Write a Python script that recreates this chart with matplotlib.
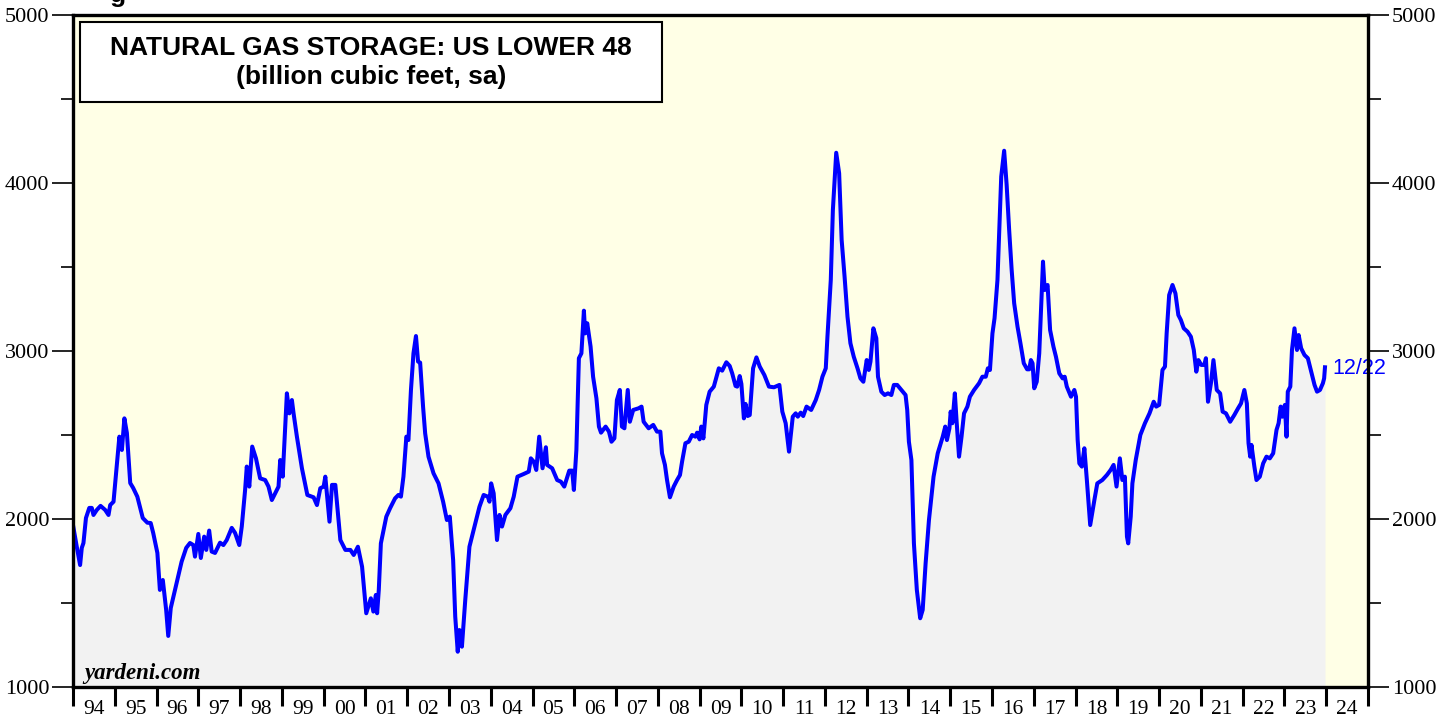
import matplotlib
matplotlib.use("Agg")
import matplotlib.pyplot as plt
from matplotlib.patches import Rectangle
from matplotlib.ticker import FixedLocator, NullFormatter

# ---------------------------------------------------------------------------
# Data: US lower-48 natural gas storage, bcf (sa)
# ---------------------------------------------------------------------------
dates = [
    1994.00, 1994.09, 1994.17, 1994.21, 1994.25, 1994.31, 1994.39, 1994.45, 1994.49, 1994.57,
    1994.66, 1994.77, 1994.85, 1994.89, 1994.97, 1995.01, 1995.06, 1995.11, 1995.17, 1995.23,
    1995.29, 1995.37, 1995.44, 1995.54, 1995.67, 1995.78, 1995.86, 1995.92, 1996.02, 1996.08,
    1996.15, 1996.23, 1996.28, 1996.34, 1996.47, 1996.60, 1996.71, 1996.80, 1996.88, 1996.92,
    1997.00, 1997.06, 1997.14, 1997.19, 1997.26, 1997.32, 1997.40, 1997.52, 1997.60, 1997.68,
    1997.80, 1997.88, 1997.98, 1998.04, 1998.12, 1998.16, 1998.22, 1998.29, 1998.38, 1998.48,
    1998.60, 1998.68, 1998.76, 1998.86, 1998.92, 1998.96, 1999.02, 1999.12, 1999.18, 1999.24,
    1999.28, 1999.36, 1999.48, 1999.61, 1999.76, 1999.84, 1999.92, 2000.00, 2000.04, 2000.14,
    2000.20, 2000.28, 2000.40, 2000.52, 2000.64, 2000.72, 2000.82, 2000.92, 2001.02, 2001.13,
    2001.19, 2001.25, 2001.28, 2001.32, 2001.37, 2001.50, 2001.59, 2001.71, 2001.79, 2001.85,
    2001.91, 2001.98, 2002.03, 2002.09, 2002.15, 2002.21, 2002.26, 2002.31, 2002.38, 2002.43,
    2002.51, 2002.63, 2002.75, 2002.86, 2002.95, 2003.02, 2003.10, 2003.15, 2003.21, 2003.25,
    2003.31, 2003.39, 2003.49, 2003.63, 2003.73, 2003.83, 2003.93, 2003.97, 2004.01, 2004.07,
    2004.15, 2004.21, 2004.27, 2004.35, 2004.47, 2004.55, 2004.64, 2004.79, 2004.91, 2004.96,
    2005.03, 2005.09, 2005.16, 2005.24, 2005.32, 2005.35, 2005.47, 2005.59, 2005.68, 2005.76,
    2005.88, 2005.95, 2005.99, 2006.05, 2006.11, 2006.17, 2006.23, 2006.26, 2006.31, 2006.39,
    2006.45, 2006.53, 2006.59, 2006.64, 2006.75, 2006.83, 2006.89, 2006.96, 2007.02, 2007.09,
    2007.14, 2007.20, 2007.28, 2007.33, 2007.41, 2007.54, 2007.61, 2007.66, 2007.78, 2007.89,
    2007.98, 2008.06, 2008.10, 2008.17, 2008.22, 2008.29, 2008.38, 2008.46, 2008.53, 2008.58,
    2008.66, 2008.74, 2008.82, 2008.90, 2008.94, 2009.00, 2009.04, 2009.09, 2009.16, 2009.24,
    2009.34, 2009.46, 2009.54, 2009.64, 2009.72, 2009.78, 2009.86, 2009.90, 2009.96, 2010.00,
    2010.06, 2010.10, 2010.15, 2010.20, 2010.28, 2010.36, 2010.44, 2010.55, 2010.66, 2010.78,
    2010.91, 2010.98, 2011.06, 2011.14, 2011.23, 2011.30, 2011.35, 2011.42, 2011.48, 2011.56,
    2011.67, 2011.78, 2011.86, 2011.94, 2012.02, 2012.06, 2012.14, 2012.19, 2012.27, 2012.34,
    2012.40, 2012.47, 2012.54, 2012.61, 2012.69, 2012.78, 2012.85, 2012.92, 2013.00, 2013.05,
    2013.09, 2013.16, 2013.23, 2013.27, 2013.35, 2013.43, 2013.51, 2013.59, 2013.65, 2013.73,
    2013.83, 2013.93, 2013.97, 2014.01, 2014.07, 2014.13, 2014.20, 2014.28, 2014.34, 2014.41,
    2014.49, 2014.60, 2014.70, 2014.82, 2014.88, 2014.92, 2014.98, 2015.01, 2015.05, 2015.11,
    2015.15, 2015.21, 2015.27, 2015.33, 2015.41, 2015.47, 2015.57, 2015.69, 2015.77, 2015.85,
    2015.90, 2015.95, 2016.01, 2016.06, 2016.13, 2016.18, 2016.22, 2016.29, 2016.35, 2016.41,
    2016.47, 2016.53, 2016.61, 2016.68, 2016.76, 2016.84, 2016.89, 2016.93, 2016.97, 2017.01,
    2017.07, 2017.13, 2017.17, 2017.22, 2017.26, 2017.33, 2017.39, 2017.47, 2017.53, 2017.61,
    2017.69, 2017.74, 2017.79, 2017.89, 2017.97, 2018.01, 2018.05, 2018.09, 2018.15, 2018.21,
    2018.27, 2018.35, 2018.45, 2018.52, 2018.64, 2018.75, 2018.84, 2018.91, 2018.98, 2019.06,
    2019.12, 2019.18, 2019.23, 2019.26, 2019.32, 2019.36, 2019.44, 2019.55, 2019.66, 2019.77,
    2019.87, 2019.93, 2020.00, 2020.08, 2020.14, 2020.18, 2020.24, 2020.32, 2020.39, 2020.46,
    2020.52, 2020.59, 2020.68, 2020.76, 2020.83, 2020.89, 2020.94, 2021.01, 2021.08, 2021.12,
    2021.17, 2021.24, 2021.30, 2021.38, 2021.46, 2021.52, 2021.60, 2021.70, 2021.80, 2021.89,
    2021.96, 2022.04, 2022.10, 2022.14, 2022.18, 2022.21, 2022.28, 2022.33, 2022.41, 2022.49,
    2022.57, 2022.65, 2022.73, 2022.81, 2022.86, 2022.91, 2022.95, 2023.01, 2023.05, 2023.08,
    2023.14, 2023.18, 2023.24, 2023.30, 2023.34, 2023.40, 2023.48, 2023.56, 2023.64, 2023.72,
    2023.78, 2023.85, 2023.92, 2023.95, 2023.97,
]
storage = [
    1964, 1835, 1726, 1828, 1857, 2006, 2066, 2066, 2024, 2054,
    2078, 2054, 2024, 2083, 2103, 2214, 2351, 2490, 2411, 2599,
    2512, 2214, 2185, 2133, 2006, 1978, 1976, 1917, 1798, 1578,
    1637, 1459, 1304, 1470, 1607, 1746, 1828, 1857, 1845, 1776,
    1911, 1768, 1895, 1816, 1931, 1806, 1798, 1859, 1845, 1875,
    1947, 1917, 1845, 1955, 2173, 2312, 2193, 2431, 2361, 2242,
    2232, 2193, 2113, 2163, 2193, 2351, 2252, 2748, 2629, 2708,
    2629, 2490, 2302, 2143, 2129, 2083, 2183, 2193, 2252, 1984,
    2203, 2203, 1875, 1816, 1816, 1786, 1835, 1716, 1439, 1528,
    1449, 1548, 1439, 1578, 1855, 2014, 2064, 2123, 2143, 2133,
    2252, 2490, 2470, 2768, 2986, 3089, 2937, 2931, 2669, 2510,
    2371, 2272, 2212, 2103, 1994, 2014, 1756, 1419, 1210, 1339,
    1240, 1518, 1835, 1974, 2073, 2143, 2133, 2103, 2212, 2153,
    1875, 2024, 1955, 2024, 2064, 2133, 2252, 2268, 2282, 2361,
    2341, 2292, 2490, 2302, 2427, 2322, 2302, 2232, 2222, 2193,
    2288, 2288, 2173, 2411, 2957, 2986, 3240, 3105, 3165, 3026,
    2847, 2718, 2550, 2514, 2550, 2520, 2460, 2480, 2708, 2768,
    2550, 2540, 2768, 2579, 2649, 2659, 2669, 2579, 2540, 2560,
    2520, 2520, 2391, 2322, 2232, 2129, 2193, 2232, 2262, 2341,
    2451, 2460, 2500, 2490, 2514, 2474, 2550, 2480, 2679, 2758,
    2788, 2897, 2883, 2933, 2911, 2867, 2792, 2788, 2851, 2804,
    2599, 2685, 2613, 2619, 2897, 2962, 2907, 2857, 2788, 2784,
    2798, 2639, 2570, 2401, 2609, 2629, 2609, 2633, 2613, 2669,
    2649, 2708, 2768, 2847, 2897, 3085, 3423, 3839, 4180, 4058,
    3661, 3443, 3204, 3046, 2966, 2897, 2837, 2817, 2946, 2887,
    2937, 3135, 3076, 2847, 2758, 2738, 2748, 2738, 2798, 2798,
    2768, 2738, 2649, 2460, 2351, 1855, 1578, 1409, 1459, 1736,
    1994, 2252, 2391, 2490, 2550, 2470, 2540, 2639, 2570, 2748,
    2589, 2371, 2490, 2629, 2669, 2728, 2768, 2808, 2847, 2847,
    2897, 2887, 3105, 3195, 3423, 3760, 4038, 4192, 3988, 3720,
    3482, 3284, 3145, 3046, 2927, 2891, 2891, 2946, 2927, 2778,
    2817, 2986, 3224, 3532, 3363, 3393, 3125, 3026, 2966, 2867,
    2837, 2847, 2788, 2728, 2768, 2728, 2470, 2331, 2312, 2421,
    2232, 1964, 2113, 2212, 2232, 2262, 2292, 2322, 2193, 2361,
    2232, 2252, 1895, 1855, 2014, 2212, 2351, 2500, 2570, 2629,
    2698, 2669, 2679, 2887, 2907, 3105, 3333, 3393, 3343, 3214,
    3185, 3135, 3115, 3085, 3006, 2877, 2946, 2917, 2917, 2957,
    2698, 2808, 2946, 2768, 2748, 2639, 2629, 2579, 2619, 2659,
    2688, 2768, 2688, 2451, 2371, 2441, 2312, 2232, 2252, 2331,
    2371, 2361, 2391, 2530, 2570, 2669, 2609, 2679, 2490, 2758,
    2788, 3006, 3135, 3006, 3095, 3016, 2976, 2957, 2877, 2798,
    2758, 2768, 2808, 2837, 2903,
]
last_label = "12/22"

years = list(range(1994, 2026))
year_labels = [f"{y % 100:02d}" for y in range(1994, 2025)]
y_major = [1000, 2000, 3000, 4000, 5000]
y_minor = [1500, 2500, 3500, 4500]

TITLE = "NATURAL GAS STORAGE: US LOWER 48"
SUBTITLE = "(billion cubic feet, sa)"

BLUE = "#0000ff"
FILL = "#f2f2f2"
PANEL = "#ffffe6"
SERIF = ["Liberation Serif", "DejaVu Serif"]
SANS = ["Liberation Sans", "DejaVu Sans"]

fig = plt.figure(figsize=(14.5, 7.21), dpi=100)
ax = fig.add_axes([73 / 1450, 1 - 687 / 721, 1295 / 1450, 672 / 721])
ax.set_facecolor(PANEL)

ax.fill_between(dates, storage, 1000, color=FILL, linewidth=0, zorder=1)
ax.plot(dates, storage, color=BLUE, linewidth=2.9, zorder=3, solid_joinstyle="round")
ax.annotate(last_label, xy=(dates[-1], storage[-1]), xytext=(5, -1), textcoords="offset points",
            color=BLUE, fontsize=15.5, family=SANS, va="center", ha="left", annotation_clip=False)

ax.set_xlim(1994, 2025)
ax.set_ylim(1000, 5000)

# x axis: year boundaries as ticks, labels centred in each year
ax.xaxis.set_major_locator(FixedLocator(years))
ax.xaxis.set_major_formatter(NullFormatter())
ax.xaxis.set_minor_locator(FixedLocator([y + 0.5 for y in years[:-1]]))
ax.set_xticklabels(year_labels, minor=True, family=SERIF, fontsize=15.5)
ax.tick_params(axis="x", which="major", direction="out", length=14, width=2.2, color="black")
ax.tick_params(axis="x", which="minor", length=0, pad=9)

# y axis: labels both sides
ax.set_yticks(y_major)
ax.set_yticklabels([str(v) for v in y_major], family=SERIF, fontsize=16)
ax.yaxis.set_minor_locator(FixedLocator(y_minor))
ax.tick_params(axis="y", which="both", direction="out", left=True, right=True,
               labelleft=True, labelright=True, width=1.2, color="black")
ax.tick_params(axis="y", which="major", length=15, pad=2)
ax.tick_params(axis="y", which="minor", length=9)
for t in ax.yaxis.get_major_ticks():
    t.label2.set_family(SERIF)
    t.label2.set_fontsize(16)

for sp in ax.spines.values():
    sp.set_linewidth(2.4)
    sp.set_color("black")
    sp.set_zorder(5)

# title box
ax.add_patch(Rectangle((0.0054, 0.8705), 0.4494, 0.1191, transform=ax.transAxes,
                       facecolor="white", edgecolor="black", linewidth=1.5, zorder=6))
ax.text(0.230, 0.951, TITLE, transform=ax.transAxes, ha="center", va="center",
        fontsize=19, fontweight="bold", family=SANS, zorder=7)
ax.text(0.230, 0.907, SUBTITLE, transform=ax.transAxes, ha="center", va="center",
        fontsize=19, fontweight="bold", family=SANS, zorder=7)

ax.text(0.0085, 0.012, "yardeni.com", transform=ax.transAxes, ha="left", va="baseline",
        fontsize=16.5, fontweight="bold", fontstyle="italic", family=SERIF, zorder=7)

# clipped heading fragment above the frame
fig.text(110 / 1450, 0.997, "g", ha="left", va="baseline", fontsize=19,
         fontweight="bold", family=SANS)

fig.savefig("out.png", dpi=100, facecolor="white")
